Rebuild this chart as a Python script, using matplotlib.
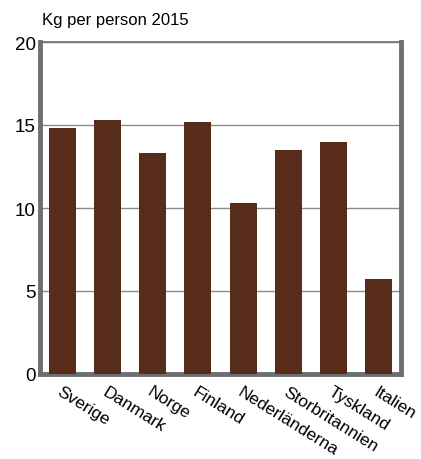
import matplotlib.pyplot as plt

countries = ["Sverige", "Danmark", "Norge", "Finland", "Nederländerna",
             "Storbritannien", "Tyskland", "Italien"]
kg_per_person = [14.8, 15.3, 13.3, 15.2, 10.3, 13.5, 14.0, 5.7]
y_ticks = [0, 5, 10, 15, 20]

plt.rcParams['font.family'] = ['Liberation Sans', 'DejaVu Sans']

bar_color = "#582c1a"
frame = "#6d6e71"

fig = plt.figure(figsize=(4.21, 4.60), dpi=100)
ax = fig.add_axes([40 / 421, 85 / 460, 361 / 421, 332 / 460])

x = list(range(len(countries)))
ax.bar(x, kg_per_person, width=0.6, color=bar_color, zorder=3)

ax.set_xlim(-0.5, len(countries) - 0.5)
ax.set_ylim(0, 20)
ax.set_yticks(y_ticks)
ax.set_yticklabels([str(t) for t in y_ticks], fontsize=13.5)
ax.yaxis.grid(True, color="#8a8a8a", linewidth=1, zorder=0)

ax.set_xticks(x)
ax.set_xticklabels(countries, rotation=-32, ha="left", va="top",
                   rotation_mode="anchor", fontsize=12.5)
ax.tick_params(axis="x", length=0, pad=7)
ax.tick_params(axis="y", length=0, pad=3)

for side in ["left", "right", "bottom"]:
    ax.spines[side].set_color(frame)
    ax.spines[side].set_linewidth(3.5)
ax.spines["top"].set_color(frame)
ax.spines["top"].set_linewidth(1.2)

fig.text(42 / 421, 1 - 20 / 460, "Kg per person 2015", fontsize=12,
         ha="left", va="center")

fig.savefig("out.png", dpi=100)
